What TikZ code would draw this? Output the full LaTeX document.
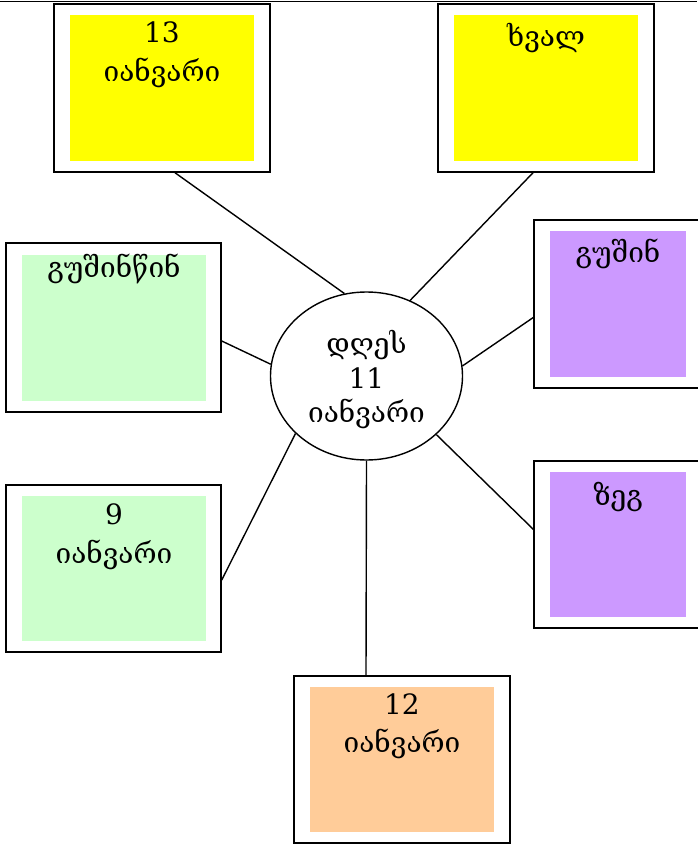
\documentclass[tikz,border=0pt]{standalone}
\usepackage{fontspec}
\setmainfont{DejaVu Serif}
\usetikzlibrary{shapes.geometric}
\definecolor{dayyellow}{RGB}{255,255,0}
\definecolor{daygreen}{RGB}{204,255,204}
\definecolor{daypurple}{RGB}{204,153,255}
\definecolor{dayorange}{RGB}{255,204,153}
\tikzset{
  card/.style={draw, line width=1.5pt, fill=white, inner sep=0pt, minimum width=216pt, minimum height=168pt},
  patch/.style={inner sep=0pt, minimum width=184pt, minimum height=146pt},
  word/.style={anchor=base, inner sep=0pt, font=\fontsize{28}{32}\selectfont},
  spoke/.style={line width=1.4pt}
}
\begin{document}
\begin{tikzpicture}[x=1pt, y=-1pt]
  \useasboundingbox (0,0) rectangle (697,845);
  \draw[line width=1pt] (0,2) -- (697,2);

  \node [card] (d13) at (162,88) {};
  \node [patch, fill=dayyellow] (d13in) at (162,88) {};
  \node [word] (d13a) at (162,43) {13};
  \node [word] (d13b) at (162,82) {იანვარი};

  \node [card] (tom) at (546,88) {};
  \node [patch, fill=dayyellow] (tomin) at (546,88) {};
  \node [word] (toma) at (546,47) {ხვალ};

  \node [card, minimum height=169pt, minimum width=215pt] (dby) at (113.5,327.5) {};
  \node [patch, fill=daygreen] (dbyin) at (114,328) {};
  \node [word] (dbya) at (114,277) {გუშინწინ};

  \node [card] (yes) at (642,304) {};
  \node [patch, fill=daypurple, minimum width=136pt] (yesin) at (618,304) {};
  \node [word] (yesa) at (618,262) {გუშინ};

  \node [card, minimum height=167pt, minimum width=215pt] (d9) at (113.5,568.5) {};
  \node [patch, fill=daygreen, minimum height=145pt] (d9in) at (114,568.5) {};
  \node [word] (d9a) at (114,524) {9};
  \node [word] (d9b) at (114,563) {იანვარი};

  \node [card, minimum height=167pt] (dat) at (642,544.5) {};
  \node [patch, fill=daypurple, minimum width=136pt, minimum height=145pt] (datin) at (618,544.5) {};
  \node [word] (data) at (618,505) {ზეგ};

  \node [card, minimum height=167pt] (d12) at (402,759.5) {};
  \node [patch, fill=dayorange, minimum height=145pt] (d12in) at (402,759.5) {};
  \node [word] (d12a) at (402,714) {12};
  \node [word] (d12b) at (402,752) {იანვარი};

  \node [draw, ellipse, line width=1.4pt, inner sep=0pt, minimum width=192pt, minimum height=168pt] (today) at (366.5,376) {};
  \node [word] (todaya) at (366.5,353) {დღეს};
  \node [word] (todayb) at (366.5,388) {11};
  \node [word] (todayc) at (366.5,422) {იანვარი};

  \draw [spoke] ([xshift=13pt]d13.south) -- (today.105.8);
  \draw [spoke] ([xshift=-13pt]tom.south) -- (today.60.5);
  \draw [spoke] ([yshift=-13.5pt]dby.east) -- (today.173.8);
  \draw [spoke] ([yshift=-13pt,xshift=-108pt]yes.center) -- (today.6.9);
  \draw [spoke] ([yshift=-11.5pt]d9.east) -- (today.219.8);
  \draw [spoke] ([yshift=14.5pt,xshift=-108pt]dat.center) -- (today.320);
  \draw [spoke] ([xshift=-36pt]d12.north) -- (today.south);
\end{tikzpicture}
\end{document}
